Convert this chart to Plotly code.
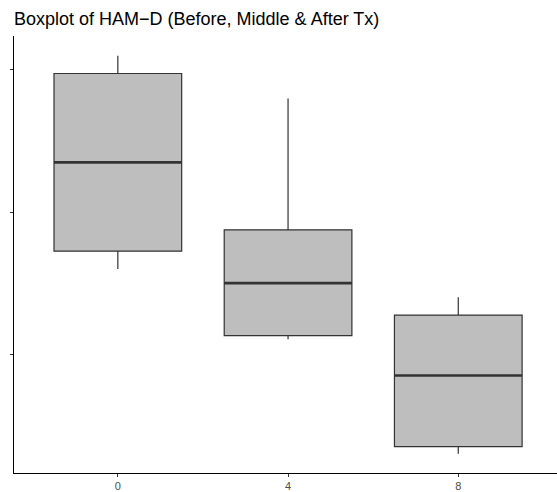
import plotly.graph_objects as go

# Data (HAM-D by week)
weeks = ["0", "4", "8"]
lower = [16.0, 11.05, 3.0]
q1 = [17.25, 11.3, 3.5]
median = [23.5, 15.0, 8.5]
q3 = [29.75, 18.75, 12.75]
upper = [31.0, 28.0, 14.0]

pos = list(range(len(weeks)))
box_w = 0.75

fig = go.Figure()
fig.add_trace(go.Box(
    x=pos, q1=q1, median=median, q3=q3,
    lowerfence=lower, upperfence=upper,
    width=box_w, whiskerwidth=0,
    fillcolor="#BEBEBE",
    line=dict(color="#333333", width=1.2),
    boxpoints=False, hoverinfo="skip", showlegend=False,
))

# thicker median lines (ggplot style)
for p, m in zip(pos, median):
    fig.add_trace(go.Scatter(
        x=[p - box_w / 2, p + box_w / 2], y=[m, m], mode="lines",
        line=dict(color="#333333", width=2.6),
        hoverinfo="skip", showlegend=False,
    ))

fig.update_layout(
    width=557, height=492,
    margin=dict(l=14, r=0, t=36, b=19),
    paper_bgcolor="white", plot_bgcolor="white",
    font=dict(family="Liberation Sans, Arial, sans-serif"),
    title=dict(
        text="Boxplot of HAM\u2212D (Before, Middle &amp; After Tx)",
        x=14 / 557, xanchor="left", y=1 - 19 / 492, yanchor="middle",
        font=dict(size=18, color="black"),
    ),
    xaxis=dict(
        range=[-0.61, 2.58], tickvals=pos, ticktext=weeks,
        showline=True, linecolor="black", linewidth=1.2,
        ticks="outside", ticklen=3, tickcolor="#333333", tickwidth=1,
        tickfont=dict(size=11, color="#4D4D4D"),
        showgrid=False, zeroline=False,
    ),
    yaxis=dict(
        range=[1.64, 32.39], tickvals=[10, 20, 30],
        showticklabels=False,
        showline=True, linecolor="black", linewidth=1.2,
        ticks="outside", ticklen=3, tickcolor="#333333", tickwidth=1,
        showgrid=False, zeroline=False,
    ),
)

fig.write_html("out.html")
